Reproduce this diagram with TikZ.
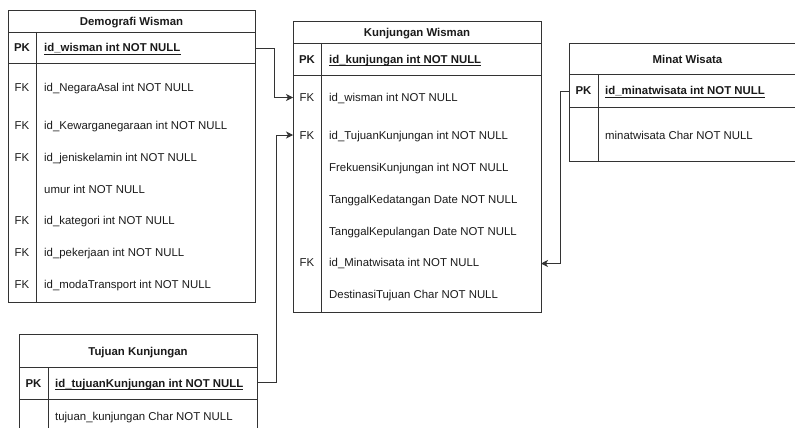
\documentclass[tikz,border=0pt]{standalone}
\usepackage{fontspec}
\setmainfont{Liberation Sans}
\usetikzlibrary{arrows.meta}
\definecolor{edge}{HTML}{333333}
\definecolor{ink}{HTML}{1A1A1A}
\begin{document}
\begin{tikzpicture}[x=1pt,y=-1pt,
  frame/.style={draw=edge, line width=0.9pt},
  txt/.style={font=\fontsize{11.4}{13}\selectfont, text=ink, inner sep=0pt, text height=8.2pt, text depth=0pt},
  title/.style={txt, font=\fontsize{11.4}{13}\selectfont\bfseries, anchor=center},
  keytxt/.style={txt, anchor=center},
  pkkey/.style={txt, font=\fontsize{11.4}{13}\selectfont\bfseries, anchor=center},
  field/.style={txt, anchor=west},
  pkfield/.style={txt, font=\fontsize{11.4}{13}\selectfont\bfseries, anchor=west},
  uline/.style={draw=ink, line width=0.8pt},
  link/.style={draw=edge, line width=0.9pt, -{Stealth[length=7pt,width=7pt,inset=2pt]}, rounded corners=0pt}
]
\useasboundingbox (0,0) rectangle (795,428);
\clip (0,0) rectangle (795,428);

% ---------- Demografi Wisman ----------
\draw[frame] (8,10) rectangle (255,302);
\draw[frame] (8,32) -- (255,32);
\draw[frame] (8,63) -- (255,63);
\draw[frame] (36,32) -- (36,302);
\node[title] (dw-title) at (131.5,21) {Demografi Wisman};
\node[pkkey] (dw-pk) at (22,47.5) {PK};
\node[pkfield] (dw-pkf) at (44,47.5) {id\_wisman int NOT NULL};
\draw[uline] ([yshift=-2.2pt]dw-pkf.south west) -- ([yshift=-2.2pt]dw-pkf.south east);
\node[keytxt] (dw-k1) at (22,87.3) {FK};
\node[field]  (dw-f1) at (44,87.3) {id\_NegaraAsal int NOT NULL};
\node[keytxt] (dw-k2) at (22,125) {FK};
\node[field]  (dw-f2) at (44,125) {id\_Kewarganegaraan int NOT NULL};
\node[keytxt] (dw-k3) at (22,157.3) {FK};
\node[field]  (dw-f3) at (44,157.3) {id\_jeniskelamin int NOT NULL};
\node[field]  (dw-f4) at (44,189) {umur int NOT NULL};
\node[keytxt] (dw-k5) at (22,220.7) {FK};
\node[field]  (dw-f5) at (44,220.7) {id\_kategori int NOT NULL};
\node[keytxt] (dw-k6) at (22,252.3) {FK};
\node[field]  (dw-f6) at (44,252.3) {id\_pekerjaan int NOT NULL};
\node[keytxt] (dw-k7) at (22,284.3) {FK};
\node[field]  (dw-f7) at (44,284.3) {id\_modaTransport int NOT NULL};
\coordinate (dw-out) at (255,48);

% ---------- Kunjungan Wisman ----------
\draw[frame] (293,21) rectangle (541,312);
\draw[frame] (293,43) -- (541,43);
\draw[frame] (293,75) -- (541,75);
\draw[frame] (321,43) -- (321,312);
\node[title] (kw-title) at (417,32.7) {Kunjungan Wisman};
\node[pkkey] (kw-pk) at (307,59.3) {PK};
\node[pkfield] (kw-pkf) at (329,59.3) {id\_kunjungan int NOT NULL};
\draw[uline] ([yshift=-2.2pt]kw-pkf.south west) -- ([yshift=-2.2pt]kw-pkf.south east);
\node[keytxt] (kw-k1) at (307,97.5) {FK};
\node[field]  (kw-f1) at (329,97.5) {id\_wisman int NOT NULL};
\node[keytxt] (kw-k2) at (307,135) {FK};
\node[field]  (kw-f2) at (329,135) {id\_TujuanKunjungan int NOT NULL};
\node[field]  (kw-f3) at (329,167.3) {FrekuensiKunjungan int NOT NULL};
\node[field]  (kw-f4) at (329,199.3) {TanggalKedatangan Date NOT NULL};
\node[field]  (kw-f5) at (329,231) {TanggalKepulangan Date NOT NULL};
\node[keytxt] (kw-k6) at (307,262.7) {FK};
\node[field]  (kw-f6) at (329,262.7) {id\_Minatwisata int NOT NULL};
\node[field]  (kw-f7) at (329,294.3) {DestinasiTujuan Char NOT NULL};
\coordinate (kw-in1) at (293,97.5);
\coordinate (kw-in2) at (293,135);
\coordinate (kw-in3) at (541,263.5);

% ---------- Minat Wisata ----------
\draw[frame] (569,43) rectangle (806,161);
\draw[frame] (569,74) -- (806,74);
\draw[frame] (569,107) -- (806,107);
\draw[frame] (598,74) -- (598,161);
\node[title] (mw-title) at (687.5,59) {Minat Wisata};
\node[pkkey] (mw-pk) at (583.5,90.7) {PK};
\node[pkfield] (mw-pkf) at (605,90.7) {id\_minatwisata int NOT NULL};
\draw[uline] ([yshift=-2.2pt]mw-pkf.south west) -- ([yshift=-2.2pt]mw-pkf.south east);
\node[field]  (mw-f1) at (605,135.7) {minatwisata Char NOT NULL};
\coordinate (mw-out) at (569,91);

% ---------- Tujuan Kunjungan ----------
\draw[frame] (19,334) rectangle (257,445);
\draw[frame] (19,367) -- (257,367);
\draw[frame] (19,399) -- (257,399);
\draw[frame] (48,367) -- (48,445);
\node[title] (tk-title) at (138,351.7) {Tujuan Kunjungan};
\node[pkkey] (tk-pk) at (33.5,383) {PK};
\node[pkfield] (tk-pkf) at (55,383) {id\_tujuanKunjungan int NOT NULL};
\draw[uline] ([yshift=-2.2pt]tk-pkf.south west) -- ([yshift=-2.2pt]tk-pkf.south east);
\node[field]  (tk-f1) at (55,416.7) {tujuan\_kunjungan Char NOT NULL};
\coordinate (tk-out) at (257,382.5);

% ---------- relations ----------
\draw[link] (dw-out) -- ++(19,0) |- (kw-in1);
\draw[link] (tk-out) -- ++(19,0) |- (kw-in2);
\draw[link] (mw-out) -- ++(-9,0) |- (kw-in3);
\end{tikzpicture}
\end{document}
